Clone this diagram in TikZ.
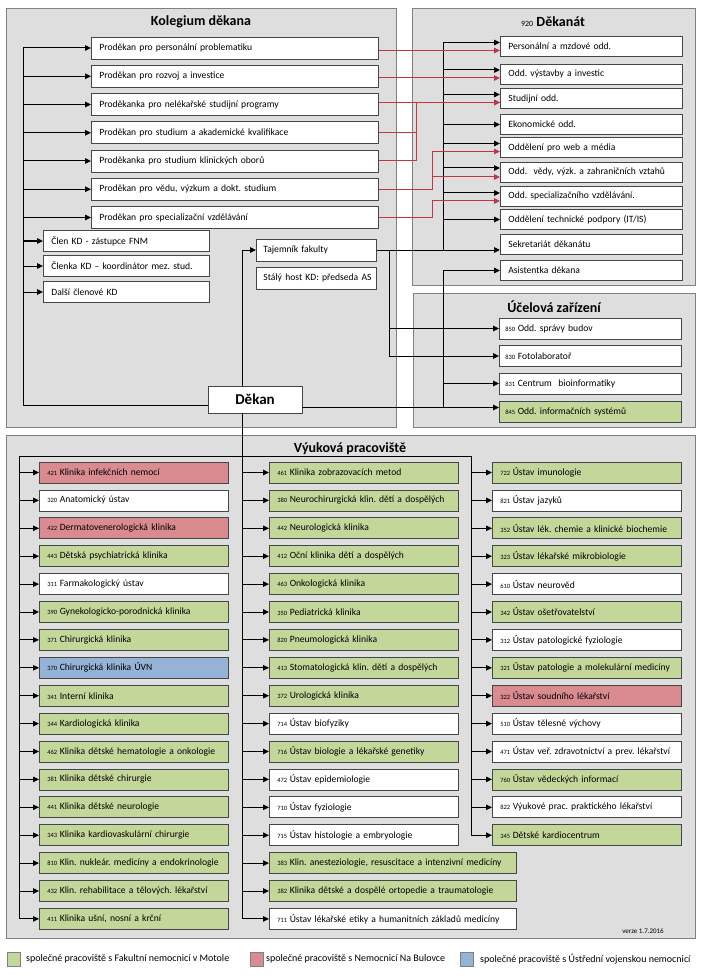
\documentclass[tikz,border=0pt]{standalone}
\usepackage{fontspec}
\setmainfont{Carlito}
\usetikzlibrary{arrows.meta}
\frenchspacing

\definecolor{panel}{RGB}{222,222,222}
\definecolor{ramec}{RGB}{128,128,128}
\definecolor{obrys}{RGB}{70,70,70}
\definecolor{zelena}{RGB}{196,215,155}
\definecolor{ruzova}{RGB}{217,139,143}
\definecolor{modra}{RGB}{149,179,215}
\definecolor{cervena}{RGB}{190,55,65}

\newcommand{\kod}[1]{{\fontsize{6.5}{7}\selectfont #1}}
\newcommand{\prac}[2]{\mbox{\kod{#1}\hspace{2.5pt}#2}}

\begin{document}
\begin{tikzpicture}[x=1pt,y=-1pt,
    panel/.style={draw=ramec,fill=panel,line width=0.8pt},
    box/.style={draw=obrys,fill=white,line width=0.8pt,anchor=west,
      inner xsep=8pt,inner ysep=0pt,align=left,
      font=\fontsize{9.6}{11}\selectfont},
    prbox/.style={box,text width=271pt,minimum height=22pt},
    clbox/.style={box,text width=150pt,minimum height=21pt},
    tbox/.style={box,inner xsep=7pt,text width=106pt,minimum height=22pt},
    dkbox/.style={box,text width=166pt,minimum height=20pt},
    ucbox/.style={box,inner xsep=6pt,text width=170pt,minimum height=21pt},
    pracbox/.style={box,text width=173pt,minimum height=21pt},
    sirokybox/.style={box,text width=231pt,minimum height=21pt},
    dekbox/.style={draw=obrys,fill=white,line width=0.8pt,minimum width=94pt,
      minimum height=27pt,font=\fontsize{15}{17}\selectfont\bfseries},
    nadpis/.style={font=\fontsize{14}{16}\selectfont\bfseries},
    legsq/.style={draw=ramec,minimum width=13pt,minimum height=14pt,inner sep=0pt},
    legtext/.style={anchor=west,inner xsep=0pt,font=\fontsize{10}{12}\selectfont},
    cara/.style={line width=1pt},
    arr/.style={cara,-{Triangle[length=6pt,width=5.5pt]}},
    rcara/.style={cara,draw=cervena},
    rarr/.style={arr,draw=cervena}]

    % pozadí a panely
    \fill[white] (0,0) rectangle (701,976);
    \useasboundingbox (0,0) rectangle (701,976);
    \draw[panel] (6,8) rectangle (396,427);
    \draw[panel] (412,8) rectangle (695,285);
    \draw[panel] (413,293) rectangle (695,427);
    \draw[panel] (6,435) rectangle (695,938);

    % nadpisy
    \node[nadpis] (tkol) at (201,22) {Kolegium děkana};
    \node[nadpis] (tdek) at (553,22) {{\fontsize{8}{8}\selectfont\mdseries 920} Děkanát};
    \node[nadpis] (tuc) at (554,307) {Účelová zařízení};
    \node[nadpis] (tvyu) at (350,449) {Výuková pracoviště};

    % kolegium děkana
    \node[prbox] (p1) at (91,48) {Proděkan pro personální problematiku};
    \node[prbox] (p2) at (91,76.25) {Proděkan pro rozvoj a investice};
    \node[prbox] (p3) at (91,104.5) {Proděkanka pro nelékařské studijní programy};
    \node[prbox] (p4) at (91,132.75) {Proděkan pro studium a akademické kvalifikace};
    \node[prbox] (p5) at (91,161) {Proděkanka pro studium klinických oborů};
    \node[prbox] (p6) at (91,189.25) {Proděkan pro vědu, výzkum a dokt. studium};
    \node[prbox] (p7) at (91,217.5) {Proděkan pro specializační vzdělávání};
    \node[clbox] (c1) at (43,241) {Člen KD - zástupce FNM};
    \node[clbox] (c2) at (43,266) {Členka KD – koordinátor mez. stud.};
    \node[clbox] (c3) at (43,292) {Další členové KD};
    \node[tbox] (taj) at (256,250) {Tajemník fakulty};
    \node[tbox] (host) at (256,278) {\mbox{Stálý host KD: předseda AS}};
    \node[dekbox] (dekan) at (255,399.5) {Děkan};

    % děkanát
    \node[dkbox] (d1) at (500,46.5) {Personální a mzdové odd.};
    \node[dkbox] (d2) at (500,74) {Odd. výstavby a investic};
    \node[dkbox] (d3) at (500,98.5) {Studijní odd.};
    \node[dkbox] (d4) at (500,124.5) {Ekonomické odd.};
    \node[dkbox] (d5) at (500,147.5) {Oddělení pro web a média};
    \node[dkbox] (d6) at (500,172) {\mbox{Odd.\ \ vědy, výzk. a zahraničních vztahů}};
    \node[dkbox] (d7) at (500,196) {Odd. specializačního vzdělávání.};
    \node[dkbox] (d8) at (500,219.5) {Oddělení technické podpory (IT/IS)};
    \node[dkbox] (sekr) at (500,244.5) {Sekretariát děkanátu};
    \node[dkbox] (asist) at (500,270.5) {Asistentka děkana};

    % účelová zařízení
    \node[ucbox] (u850) at (499,328.5) {\prac{850}{Odd. správy budov}};
    \node[ucbox] (u830) at (499,356) {\prac{830}{Fotolaboratoř}};
    \node[ucbox] (u831) at (499,383.5) {\prac{831}{Centrum\ \ bioinformatiky}};
    \node[ucbox,fill=zelena] (u845) at (499,411.5) {\prac{845}{Odd. informačních systémů}};

    % výuková pracoviště - levý sloupec
    \node[pracbox,fill=ruzova] (l1) at (39,472.5) {\prac{421}{Klinika infekčních nemocí}};
    \node[pracbox] (l2) at (39,500.4) {\prac{320}{Anatomický ústav}};
    \node[pracbox,fill=ruzova] (l3) at (39,528.3) {\prac{422}{Dermatovenerologická klinika}};
    \node[pracbox,fill=zelena] (l4) at (39,556.2) {\prac{443}{Dětská psychiatrická klinika}};
    \node[pracbox] (l5) at (39,584.1) {\prac{311}{Farmakologický ústav}};
    \node[pracbox,fill=zelena] (l6) at (39,612) {\prac{390}{Gynekologicko-porodnická klinika}};
    \node[pracbox,fill=zelena] (l7) at (39,639.9) {\prac{371}{Chirurgická klinika}};
    \node[pracbox,fill=modra] (l8) at (39,667.8) {\prac{370}{Chirurgická klinika ÚVN}};
    \node[pracbox,fill=zelena] (l9) at (39,695.7) {\prac{341}{Interní klinika}};
    \node[pracbox,fill=zelena] (l10) at (39,723.6) {\prac{344}{Kardiologická klinika}};
    \node[pracbox,fill=zelena] (l11) at (39,751.5) {\prac{462}{Klinika dětské hematologie a onkologie}};
    \node[pracbox,fill=zelena] (l12) at (39,779.4) {\prac{381}{Klinika dětské chirurgie}};
    \node[pracbox,fill=zelena] (l13) at (39,807.3) {\prac{441}{Klinika dětské neurologie}};
    \node[pracbox,fill=zelena] (l14) at (39,835.2) {\prac{343}{Klinika kardiovaskulární chirurgie}};
    \node[pracbox,fill=zelena] (l15) at (39,863.1) {\prac{810}{Klin. nukleár. medicíny a endokrinologie}};
    \node[pracbox,fill=zelena] (l16) at (39,891) {\prac{432}{Klin. rehabilitace a tělových. lékařství}};
    \node[pracbox,fill=zelena] (l17) at (39,918.9) {\prac{411}{Klinika ušní, nosní a krční}};

    % prostřední sloupec
    \node[pracbox,fill=zelena] (m1) at (269,472.5) {\prac{461}{Klinika zobrazovacích metod}};
    \node[pracbox,fill=zelena] (m2) at (269,500.4) {\prac{380}{Neurochirurgická klin. dětí a dospělých}};
    \node[pracbox,fill=zelena] (m3) at (269,528.3) {\prac{442}{Neurologická klinika}};
    \node[pracbox,fill=zelena] (m4) at (269,556.2) {\prac{412}{Oční klinika dětí a dospělých}};
    \node[pracbox,fill=zelena] (m5) at (269,584.1) {\prac{463}{Onkologická klinika}};
    \node[pracbox,fill=zelena] (m6) at (269,612) {\prac{350}{Pediatrická klinika}};
    \node[pracbox,fill=zelena] (m7) at (269,639.9) {\prac{820}{Pneumologická klinika}};
    \node[pracbox,fill=zelena] (m8) at (269,667.8) {\prac{413}{Stomatologická klin. dětí a dospělých}};
    \node[pracbox,fill=zelena] (m9) at (269,695.7) {\prac{372}{Urologická klinika}};
    \node[pracbox] (m10) at (269,723.6) {\prac{714}{Ústav biofyziky}};
    \node[pracbox,fill=zelena] (m11) at (269,751.5) {\prac{716}{Ústav biologie a lékařské genetiky}};
    \node[pracbox] (m12) at (269,779.4) {\prac{472}{Ústav epidemiologie}};
    \node[pracbox] (m13) at (269,807.3) {\prac{710}{Ústav fyziologie}};
    \node[pracbox] (m14) at (269,835.2) {\prac{715}{Ústav histologie a embryologie}};
    \node[sirokybox,fill=zelena] (m15) at (269,863.1) {\prac{383}{Klin. anesteziologie, resuscitace a intenzivní medicíny}};
    \node[sirokybox,fill=zelena] (m16) at (269,891) {\prac{382}{Klinika dětské a dospělé ortopedie a traumatologie}};
    \node[sirokybox] (m17) at (269,918.9) {\prac{711}{Ústav lékařské etiky a humanitních základů medicíny}};

    % pravý sloupec
    \node[pracbox,fill=zelena] (r1) at (492,472.5) {\prac{722}{Ústav imunologie}};
    \node[pracbox] (r2) at (492,500.4) {\prac{821}{Ústav jazyků}};
    \node[pracbox,fill=zelena] (r3) at (492,528.3) {\prac{352}{Ústav lék. chemie a klinické biochemie}};
    \node[pracbox,fill=zelena] (r4) at (492,556.2) {\prac{323}{Ústav lékařské mikrobiologie}};
    \node[pracbox] (r5) at (492,584.1) {\prac{610}{Ústav neurověd}};
    \node[pracbox,fill=zelena] (r6) at (492,612) {\prac{342}{Ústav ošetřovatelství}};
    \node[pracbox] (r7) at (492,639.9) {\prac{312}{Ústav patologické fyziologie}};
    \node[pracbox,fill=zelena] (r8) at (492,667.8) {\prac{321}{Ústav patologie a molekulární medicíny}};
    \node[pracbox,fill=ruzova] (r9) at (492,695.7) {\prac{322}{Ústav soudního lékařství}};
    \node[pracbox] (r10) at (492,723.6) {\prac{510}{Ústav tělesné výchovy}};
    \node[pracbox] (r11) at (492,751.5) {\prac{471}{Ústav veř. zdravotnictví a prev. lékařství}};
    \node[pracbox,fill=zelena] (r12) at (492,779.4) {\prac{760}{Ústav vědeckých informací}};
    \node[pracbox] (r13) at (492,807.3) {\prac{822}{Výukové prac. praktického lékařství}};
    \node[pracbox,fill=zelena] (r14) at (492,835.2) {\prac{345}{Dětské kardiocentrum}};

    % body spojnic
    \coordinate (kbus) at (23,405);
    \coordinate (osa) at (242,456);
    \coordinate (vl) at (19,456);
    \coordinate (vr) at (471,456);
    \coordinate (tbus) at (443,250);
    \coordinate (tbus2) at (389,250);
    \coordinate (dbus) at (443,408);
    \coordinate (rb1) at (416,0);
    \coordinate (rb2) at (432,0);
    \coordinate (dline) at ([yshift=-8pt]dekan.east);
    \coordinate (d1a) at ([yshift=4pt]d1.west);
    \coordinate (d1r) at ([yshift=-4pt]d1.west);
    \coordinate (d2a) at ([yshift=4pt]d2.west);
    \coordinate (d2r) at ([yshift=-4pt]d2.west);
    \coordinate (d3a) at ([yshift=4pt]d3.west);
    \coordinate (d3r) at ([yshift=-4pt]d3.west);
    \coordinate (d5a) at ([yshift=4pt]d5.west);
    \coordinate (d5r) at ([yshift=-4pt]d5.west);
    \coordinate (d6a) at ([yshift=4pt]d6.west);
    \coordinate (d6r) at ([yshift=-5pt]d6.west);
    \coordinate (d7a) at ([yshift=3pt]d7.west);
    \coordinate (d7r) at ([yshift=-5pt]d7.west);

    % děkan -> kolegium
    \draw[cara] (dekan.west |- kbus) -- (kbus) -- (kbus |- p1.west);
    \draw[arr] (kbus |- p1.west) -- (p1.west);
    \draw[arr] (kbus |- p2.west) -- (p2.west);
    \draw[arr] (kbus |- p3.west) -- (p3.west);
    \draw[arr] (kbus |- p4.west) -- (p4.west);
    \draw[arr] (kbus |- p5.west) -- (p5.west);
    \draw[arr] (kbus |- p6.west) -- (p6.west);
    \draw[arr] (kbus |- p7.west) -- (p7.west);
    \draw[arr] (kbus |- c1.west) -- (c1.west);
    \draw[arr] (kbus |- c2.west) -- (c2.west);
    \draw[arr] (kbus |- c3.west) -- (c3.west);
    \draw[arr] (dekan.north -| osa) |- (taj.west);

    % tajemník -> děkanát, účelová zařízení
    \draw[arr] (taj.east) -- (taj.east -| sekr.west);
    \draw[cara] (tbus) -- (tbus |- d1a);
    \draw[arr] (tbus |- d1a) -- (d1a);
    \draw[arr] (tbus |- d2a) -- (d2a);
    \draw[arr] (tbus |- d3a) -- (d3a);
    \draw[arr] (tbus |- d4.west) -- (d4.west);
    \draw[arr] (tbus |- d5a) -- (d5a);
    \draw[arr] (tbus |- d6a) -- (d6a);
    \draw[arr] (tbus |- d7a) -- (d7a);
    \draw[arr] (tbus |- d8.west) -- (d8.west);
    \draw[cara] (tbus2) -- (tbus2 |- u830.west);
    \draw[arr] (tbus2 |- u850.west) -- (u850.west);
    \draw[arr] (tbus2 |- u830.west) -- (u830.west);

    % děkan -> asistentka, účelová zařízení
    \draw[arr] (dline) -- (dline -| u845.west);
    \draw[cara] (dbus |- dline) -- (dbus |- asist.west);
    \draw[arr] (dbus |- asist.west) -- (asist.west);
    \draw[arr] (dbus |- u831.west) -- (u831.west);

    % proděkani -> děkanát
    \draw[rarr] (p1.east |- d1r) -- (d1r);
    \draw[rarr] (p2.east |- d2r) -- (d2r);
    \draw[rarr] (p3.east |- d3r) -- (d3r);
    \draw[rarr] (p4.east) -| (rb1 |- d3r) -- (d3r);
    \draw[rcara] (p5.east) -| (rb1 |- p4.east);
    \draw[rarr] (p6.east) -| (rb2 |- d5r) -- (d5r);
    \draw[rarr] (rb2 |- d6r) -- (d6r);
    \draw[rarr] (p7.east) -| (rb2 |- d7r) -- (d7r);

    % děkan -> výuková pracoviště
    \draw[cara] (dekan.south -| osa) -- (osa);
    \draw[cara] (vl |- l17.west) -- (vl) -- (vr) -- (vr |- r14.west);
    \draw[cara] (osa) -- (osa |- m17.west);
    \draw[arr] (vl |- l1.west) -- (l1.west);
    \draw[arr] (vl |- l2.west) -- (l2.west);
    \draw[arr] (vl |- l3.west) -- (l3.west);
    \draw[arr] (vl |- l4.west) -- (l4.west);
    \draw[arr] (vl |- l5.west) -- (l5.west);
    \draw[arr] (vl |- l6.west) -- (l6.west);
    \draw[arr] (vl |- l7.west) -- (l7.west);
    \draw[arr] (vl |- l8.west) -- (l8.west);
    \draw[arr] (vl |- l9.west) -- (l9.west);
    \draw[arr] (vl |- l10.west) -- (l10.west);
    \draw[arr] (vl |- l11.west) -- (l11.west);
    \draw[arr] (vl |- l12.west) -- (l12.west);
    \draw[arr] (vl |- l13.west) -- (l13.west);
    \draw[arr] (vl |- l14.west) -- (l14.west);
    \draw[arr] (vl |- l15.west) -- (l15.west);
    \draw[arr] (vl |- l16.west) -- (l16.west);
    \draw[arr] (vl |- l17.west) -- (l17.west);
    \draw[arr] (osa |- m1.west) -- (m1.west);
    \draw[arr] (osa |- m2.west) -- (m2.west);
    \draw[arr] (osa |- m3.west) -- (m3.west);
    \draw[arr] (osa |- m4.west) -- (m4.west);
    \draw[arr] (osa |- m5.west) -- (m5.west);
    \draw[arr] (osa |- m6.west) -- (m6.west);
    \draw[arr] (osa |- m7.west) -- (m7.west);
    \draw[arr] (osa |- m8.west) -- (m8.west);
    \draw[arr] (osa |- m9.west) -- (m9.west);
    \draw[arr] (osa |- m10.west) -- (m10.west);
    \draw[arr] (osa |- m11.west) -- (m11.west);
    \draw[arr] (osa |- m12.west) -- (m12.west);
    \draw[arr] (osa |- m13.west) -- (m13.west);
    \draw[arr] (osa |- m14.west) -- (m14.west);
    \draw[arr] (osa |- m15.west) -- (m15.west);
    \draw[arr] (osa |- m16.west) -- (m16.west);
    \draw[arr] (osa |- m17.west) -- (m17.west);
    \draw[arr] (vr |- r1.west) -- (r1.west);
    \draw[arr] (vr |- r2.west) -- (r2.west);
    \draw[arr] (vr |- r3.west) -- (r3.west);
    \draw[arr] (vr |- r4.west) -- (r4.west);
    \draw[arr] (vr |- r5.west) -- (r5.west);
    \draw[arr] (vr |- r6.west) -- (r6.west);
    \draw[arr] (vr |- r7.west) -- (r7.west);
    \draw[arr] (vr |- r8.west) -- (r8.west);
    \draw[arr] (vr |- r9.west) -- (r9.west);
    \draw[arr] (vr |- r10.west) -- (r10.west);
    \draw[arr] (vr |- r11.west) -- (r11.west);
    \draw[arr] (vr |- r12.west) -- (r12.west);
    \draw[arr] (vr |- r13.west) -- (r13.west);
    \draw[arr] (vr |- r14.west) -- (r14.west);

    \node[font=\fontsize{7}{8}\selectfont] (verze) at (643,931) {verze 1.7.2016};

    % legenda
    \node[legsq,fill=zelena] (lz) at (14,959) {};
    \node[legtext] (lzt) at (26,959) {společné pracoviště s Fakultní nemocnicí v Motole};
    \node[legsq,fill=ruzova] (lr) at (257,959) {};
    \node[legtext] (lrt) at (266,959) {společné pracoviště s Nemocnicí Na Bulovce};
    \node[legsq,fill=modra] (lm) at (467,959) {};
    \node[legtext] (lmt) at (480,959) {společné pracoviště s Ústřední vojenskou nemocnicí};
\end{tikzpicture}
\end{document}
